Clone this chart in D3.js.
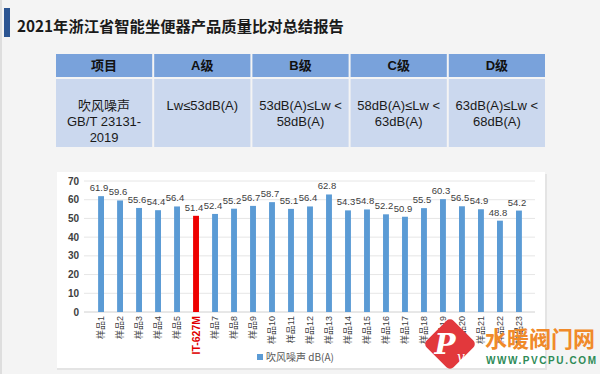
<!DOCTYPE html>
<html>
<head>
<meta charset="utf-8">
<script src="https://cdn.jsdelivr.net/npm/d3@7"></script>
<style>
body { margin: 0; background: #f3f3f3; }
svg { display: block; }
</style>
</head>
<body>
<svg id="chart" width="600" height="374"></svg>
<script>
// table content
var tableHead = ["项目", "A级", "B级", "C级", "D级"];
var tableBody = [
	["吹风噪声", "GB/T 23131-", "2019"],
	["Lw≤53dB(A)"],
	["53dB(A)≤Lw <", "58dB(A)"],
	["58dB(A)≤Lw <", "63dB(A)"],
	["63dB(A)≤Lw <", "68dB(A)"]
];

// bar chart data
var samples = ["样品1", "样品2", "样品3", "样品4", "样品5", "IT-627M", "样品7", "样品8", "样品9", "样品10",
	"样品11", "样品12", "样品13", "样品14", "样品15", "样品16", "样品17", "样品18", "样品19", "样品20",
	"样品21", "样品22", "样品23"];
var noise = [61.9, 59.6, 55.6, 54.4, 56.4, 51.4, 52.4, 55.2, 56.7, 58.7,
	55.1, 56.4, 62.8, 54.3, 54.8, 52.2, 50.9, 55.5, 60.3, 56.5,
	54.9, 48.8, 54.2];
var yTicks = [0, 10, 20, 30, 40, 50, 60, 70];
var highlight = "IT-627M";

var svg = d3.select("#chart");
var cjk = "'Liberation Sans', Arial, 'Noto Sans CJK SC', sans-serif";

// slide background
svg.append("rect").attr("width", 600).attr("height", 374).attr("fill", "#f4f4f4");
svg.append("rect").attr("x", 0).attr("y", 0).attr("width", 2).attr("height", 374).attr("fill", "#dedede");

// title
svg.append("rect").attr("x", 4).attr("y", 8).attr("width", 6).attr("height", 29).attr("fill", "#2c5592");
svg.append("text")
	.attr("x", 17).attr("y", 32)
	.attr("font-family", "'Noto Sans CJK SC', sans-serif")
	.attr("font-weight", "bold")
	.attr("font-size", "15.3px")
	.attr("fill", "#1a1a1a")
	.text("2021年浙江省智能坐便器产品质量比对总结报告");

// table
var colX = d3.scaleBand().domain(d3.range(5)).range([55, 546]);
var gTable = svg.append("g").attr("class", "table");

gTable.selectAll("rect.head")
	.data(tableHead)
	.enter()
	.append("rect")
	.attr("class", "head")
	.attr("x", function(d, i){ return colX(i) + 1; })
	.attr("y", 54)
	.attr("width", colX.bandwidth() - 2)
	.attr("height", 23)
	.attr("fill", "#79a2db");

gTable.selectAll("text.head")
	.data(tableHead)
	.enter()
	.append("text")
	.attr("class", "head")
	.attr("x", function(d, i){ return colX(i) + colX.bandwidth() / 2; })
	.attr("y", 70)
	.attr("text-anchor", "middle")
	.attr("font-family", cjk)
	.attr("font-weight", "bold")
	.attr("font-size", "13px")
	.attr("fill", "#111")
	.text(function(d){ return d; });

gTable.selectAll("rect.body")
	.data(tableBody)
	.enter()
	.append("rect")
	.attr("class", "body")
	.attr("x", function(d, i){ return colX(i) + 1; })
	.attr("y", 79)
	.attr("width", colX.bandwidth() - 2)
	.attr("height", 68)
	.attr("fill", "#cbd8ee");

tableBody.forEach(function(lines, i){
	gTable.append("g")
		.selectAll("text")
		.data(lines)
		.enter()
		.append("text")
		.attr("x", colX(i) + colX.bandwidth() / 2)
		.attr("y", function(d, j){ return 110 + j * 16; })
		.attr("text-anchor", "middle")
		.attr("font-family", cjk)
		.attr("font-size", "13px")
		.attr("fill", "#1a1a1a")
		.text(function(d){ return d; });
});

// chart panel
svg.append("rect").attr("x", 57).attr("y", 174).attr("width", 490).attr("height", 196).attr("fill", "#e4e4e4");
svg.append("rect").attr("x", 57).attr("y", 172).attr("width", 488).attr("height", 196).attr("fill", "#ffffff");

var x = d3.scaleBand().domain(samples).range([85, 535]).padding(0.69);
var y = d3.scaleLinear().domain([0, 70]).range([312, 181]);

var gChart = svg.append("g").attr("class", "bars");

gChart.selectAll("line.grid")
	.data(yTicks)
	.enter()
	.append("line")
	.attr("class", "grid")
	.attr("x1", 84).attr("x2", 535)
	.attr("y1", function(d){ return y(d); })
	.attr("y2", function(d){ return y(d); })
	.attr("stroke", function(d){ return d == 0 ? "#d0d0d0" : "#e6e6e6"; })
	.attr("stroke-width", 1);

gChart.selectAll("text.ytick")
	.data(yTicks)
	.enter()
	.append("text")
	.attr("class", "ytick")
	.attr("x", 79)
	.attr("y", function(d){ return y(d); })
	.attr("dy", "0.35em")
	.attr("text-anchor", "end")
	.attr("font-family", "'Liberation Sans', Arial, sans-serif")
	.attr("font-weight", "bold")
	.attr("font-size", "10px")
	.attr("fill", "#404040")
	.text(function(d){ return d; });

gChart.selectAll("rect.bar")
	.data(samples)
	.enter()
	.append("rect")
	.attr("class", "bar")
	.attr("x", function(d){ return x(d); })
	.attr("y", function(d, i){ return y(noise[i]); })
	.attr("width", x.bandwidth())
	.attr("height", function(d, i){ return y(0) - y(noise[i]); })
	.attr("fill", function(d){ return d == highlight ? "#ee0000" : "#5b9bd5"; });

gChart.selectAll("text.value")
	.data(samples)
	.enter()
	.append("text")
	.attr("class", "value")
	.attr("x", function(d){ return x(d) + x.bandwidth() / 2 - 2; })
	.attr("y", function(d, i){ return y(noise[i]) - 5; })
	.attr("text-anchor", "middle")
	.attr("font-family", "'Liberation Sans', Arial, sans-serif")
	.attr("font-size", "9.5px")
	.attr("fill", "#404040")
	.text(function(d, i){ return noise[i]; });

gChart.selectAll("text.xtick")
	.data(samples)
	.enter()
	.append("text")
	.attr("class", "xtick")
	.attr("transform", function(d){
		return "translate(" + (x(d) + x.bandwidth() / 2) + ",316) rotate(-90)";
	})
	.attr("dy", "0.35em")
	.attr("text-anchor", "end")
	.attr("font-family", function(d){ return d == highlight ? "'Liberation Sans', Arial, sans-serif" : cjk; })
	.attr("font-weight", function(d){ return d == highlight ? "bold" : "normal"; })
	.attr("font-size", function(d){ return d == highlight ? "10.5px" : "9px"; })
	.attr("fill", function(d){ return d == highlight ? "#e00000" : "#404040"; })
	.text(function(d){ return d; });

// legend
svg.append("rect").attr("x", 257).attr("y", 354).attr("width", 6).attr("height", 6).attr("fill", "#5b9bd5");
svg.append("text")
	.attr("x", 266).attr("y", 361)
	.attr("font-family", "'Noto Sans CJK SC', sans-serif")
	.attr("font-size", "10px")
	.attr("fill", "#595959")
	.text("吹风噪声 dB(A)");

// watermark
var gMark = svg.append("g").attr("class", "watermark");
gMark.append("rect")
	.attr("x", -19).attr("y", -19).attr("width", 38).attr("height", 38).attr("rx", 5)
	.attr("fill", "#e2383c")
	.attr("transform", "translate(450,344) rotate(45)");
gMark.append("text")
	.attr("x", 445).attr("y", 354)
	.attr("text-anchor", "middle")
	.attr("font-family", "'DejaVu Serif', serif")
	.attr("font-style", "italic")
	.attr("font-weight", "bold")
	.attr("font-size", "28px")
	.attr("fill", "#ffffff")
	.text("P");
gMark.append("text")
	.attr("x", 461).attr("y", 362)
	.attr("text-anchor", "middle")
	.attr("font-family", "'DejaVu Serif', serif")
	.attr("font-style", "italic")
	.attr("font-size", "14px")
	.attr("fill", "#ffffff")
	.text("v");
gMark.append("text")
	.attr("x", 485).attr("y", 347)
	.attr("font-family", "'Noto Sans CJK SC', sans-serif")
	.attr("font-weight", "bold")
	.attr("font-size", "22px")
	.attr("fill", "#f08a2a")
	.text("水暖阀门网");
gMark.append("text")
	.attr("x", 486).attr("y", 364)
	.attr("textLength", 110)
	.attr("font-family", "'Liberation Sans', Arial, sans-serif")
	.attr("font-weight", "bold")
	.attr("font-size", "10px")
	.attr("fill", "#2e8b57")
	.text("WWW.PVCPU.COM");
</script>
</body>
</html>
